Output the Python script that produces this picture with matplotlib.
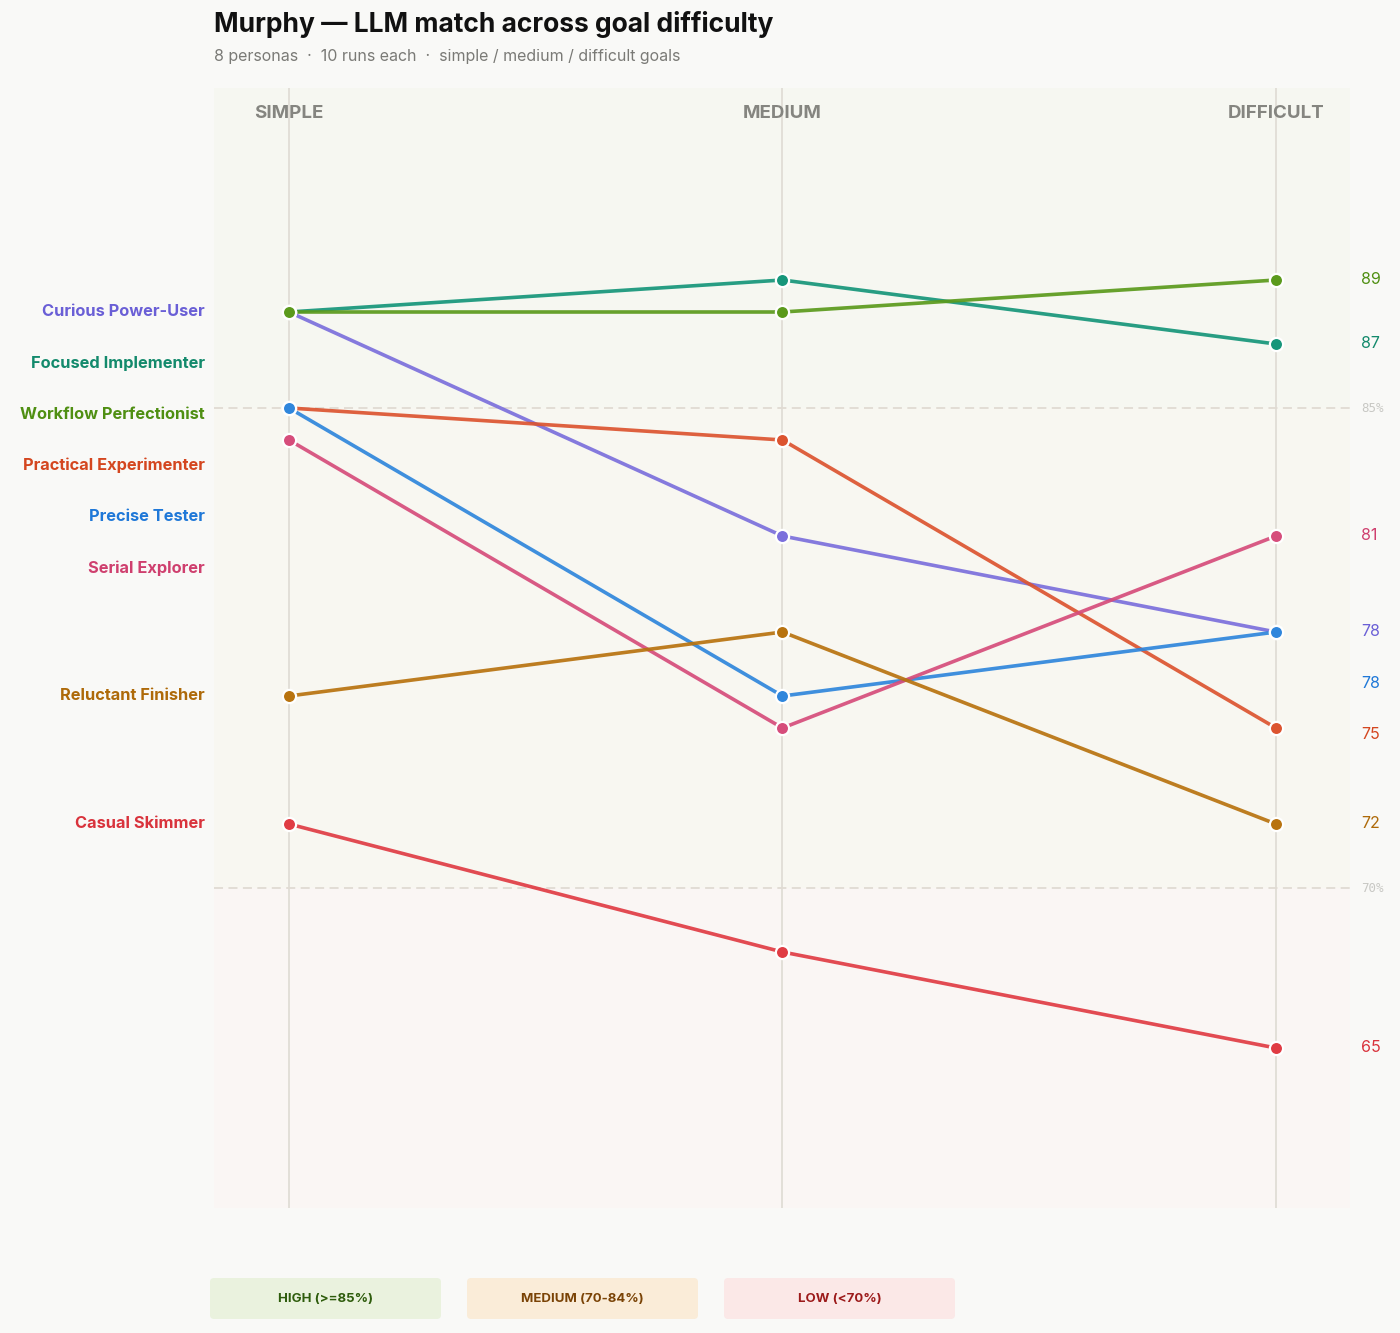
import matplotlib
matplotlib.use("Agg")
import matplotlib.pyplot as plt
from matplotlib.patches import FancyBboxPatch

plt.rcParams['font.family'] = ['Inter', 'DejaVu Sans']

# ---- data ----
stages = ["SIMPLE", "MEDIUM", "DIFFICULT"]
personas = ["Curious Power-User", "Focused Implementer", "Workflow Perfectionist",
            "Practical Experimenter", "Precise Tester", "Serial Explorer",
            "Reluctant Finisher", "Casual Skimmer"]
simple_vals = [88, 88, 88, 85, 85, 84, 76, 72]
medium_vals = [81, 89, 88, 84, 76, 75, 78, 68]
difficult_vals = [78, 87, 89, 75, 78, 81, 72, 65]
colors = ["#7b6fdc", "#16967a", "#5b9a1c", "#dc5430", "#2f86dc", "#d64d7b", "#b8730f", "#e03c44"]
label_colors = ["#6a5fd6", "#138a6c", "#4f8f12", "#d4461f", "#1f78d8", "#cf3f6e", "#ae6a09", "#d9333c"]
thresholds = [85, 70]
threshold_labels = ["85%", "70%"]
legend_labels = ["HIGH (>=85%)", "MEDIUM (70-84%)", "LOW (<70%)"]
legend_bg = ["#eaf2de", "#faecd8", "#fbe8e7"]
legend_fg = ["#2e5c0c", "#7a4306", "#9c1a1a"]
title = "Murphy \u2014 LLM match across goal difficulty"
subtitle = "8 personas  \u00b7  10 runs each  \u00b7  simple / medium / difficult goals"

W, H = 1400, 1333
fig = plt.figure(figsize=(W / 100, H / 100), dpi=100, facecolor="#f9f9f7")
ax = fig.add_axes([214 / W, 1 - 1208 / H, (1350 - 214) / W, (1208 - 88) / H])
ymin, ymax = 60, 95
ax.set_xlim(-0.152, 2.15)
ax.set_ylim(ymin, ymax)
ax.set_facecolor("none")
for s in ax.spines.values():
    s.set_visible(False)
ax.set_xticks([])
ax.set_yticks([])

# bands
ax.axhspan(85, ymax, color="#f6f7f1", zorder=0, lw=0)
ax.axhspan(70, 85, color="#f8f7f1", zorder=0, lw=0)
ax.axhspan(ymin, 70, color="#faf6f4", zorder=0, lw=0)

xs = list(range(len(stages)))
for x, st in zip(xs, stages):
    ax.axvline(x, color="#e0ddd6", lw=1.3, zorder=1)
    ax.text(x, 94.2, st, ha="center", va="center", fontsize=13.5, fontweight="bold",
            color="#858580", zorder=5)

for t, tl in zip(thresholds, threshold_labels):
    ax.axhline(t, color="#e0dbd3", lw=1.3, ls=(0, (5, 3)), zorder=1)
    ax.text(2.173, t, tl, ha="left", va="center", fontsize=9, family="DejaVu Sans Mono",
            color="#c8c8c4", clip_on=False)

series = list(zip(simple_vals, medium_vals, difficult_vals))
for i, vals in enumerate(series):
    ax.plot(xs, vals, color=colors[i], lw=2.6, alpha=0.92, zorder=3 + i * 0.1,
            solid_capstyle="round")
    ax.plot(xs, vals, ls="none", marker="o", ms=9.5, mfc=colors[i], mec="white",
            mew=1.6, zorder=4 + i * 0.1)

# label dodging
gap = 1.6
def dodge(vals):
    order = sorted(range(len(vals)), key=lambda k: -vals[k])
    pos = [0] * len(vals)
    prev = None
    for k in order:
        y = vals[k] if prev is None else min(vals[k], prev - gap)
        pos[k] = y
        prev = y
    return pos

left_pos = dodge(simple_vals)
right_pos = dodge(difficult_vals)
for i, name in enumerate(personas):
    ax.text(-0.17, left_pos[i], name, ha="right", va="center", fontsize=11.8,
            fontweight="bold", color=label_colors[i], clip_on=False)
    ax.text(2.173, right_pos[i], f"{difficult_vals[i]}", ha="left", va="center",
            fontsize=11.5, color=label_colors[i], clip_on=False)

fig.text(214 / W, 1 - 25 / H, title, ha="left", va="center", fontsize=19,
         fontweight="bold", color="#111111")
fig.text(214 / W, 1 - 57 / H, subtitle, ha="left", va="center", fontsize=11.5,
         color="#7a7a76")

# legend boxes
bx0, bw, bgap, by, bh = 210, 231, 26, 1278, 41
for j, (lab, bg, fg) in enumerate(zip(legend_labels, legend_bg, legend_fg)):
    x0 = bx0 + j * (bw + bgap)
    p = FancyBboxPatch((x0 / W, 1 - (by + bh) / H), bw / W, bh / H,
                       boxstyle="round,pad=0,rounding_size=0.003",
                       transform=fig.transFigure, facecolor=bg, edgecolor="none")
    fig.patches.append(p)
    fig.text((x0 + bw / 2) / W, 1 - (by + bh / 2) / H, lab, ha="center", va="center",
             fontsize=9.5, fontweight="bold", color=fg)

fig.savefig("out.png", dpi=100, facecolor=fig.get_facecolor())
